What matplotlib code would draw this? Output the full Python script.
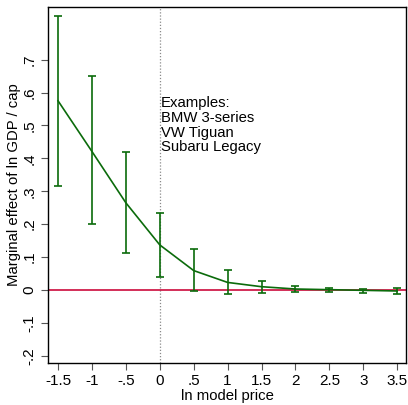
import matplotlib
matplotlib.use("Agg")
import matplotlib.pyplot as plt

plt.rcParams['font.family'] = ['Liberation Sans', 'DejaVu Sans']

x_vals = [-1.5, -1.0, -0.5, 0.0, 0.5, 1.0, 1.5, 2.0, 2.5, 3.0, 3.5]
effect = [0.575, 0.421, 0.265, 0.137, 0.059, 0.023, 0.010, 0.003, 0.001, -0.001, -0.003]
upper = [0.834, 0.651, 0.418, 0.233, 0.124, 0.061, 0.027, 0.012, 0.006, 0.004, 0.005]
lower = [0.317, 0.201, 0.112, 0.039, -0.003, -0.012, -0.010, -0.007, -0.006, -0.009, -0.012]

xticks = [-1.5, -1, -0.5, 0, 0.5, 1, 1.5, 2, 2.5, 3, 3.5]
xtick_labels = ['-1.5', '-1', '-.5', '0', '.5', '1', '1.5', '2', '2.5', '3', '3.5']
yticks = [-0.2, -0.1, 0, 0.1, 0.2, 0.3, 0.4, 0.5, 0.6, 0.7]
ytick_labels = ['-.2', '-.1', '0', '.1', '.2', '.3', '.4', '.5', '.6', '.7']
note = "Examples:\nBMW 3-series\nVW Tiguan\nSubaru Legacy"

green = '#0b6b0b'
fig = plt.figure(figsize=(4.08, 4.05), dpi=100)
ax = fig.add_axes([0.1176, 0.1044, 0.9963 - 0.1176, 0.9835 - 0.1044])

ax.axvline(0, color='#8a8a8a', lw=0.9, ls=(0, (1, 1.5)), zorder=1)
ax.axhline(0, color='#cc0a3c', lw=1.2, zorder=2)
ax.plot(x_vals, effect, color=green, lw=1.2, zorder=3)
yerr = [[e - l for e, l in zip(effect, lower)], [u - e for e, u in zip(effect, upper)]]
ax.errorbar(x_vals, effect, yerr=yerr, fmt='none', ecolor=green, elinewidth=1.2,
            capsize=3, capthick=1.2, zorder=4)

ax.set_xlim(-1.648, 3.637)
ax.set_ylim(-0.221, 0.861)
ax.set_xticks(xticks)
ax.set_xticklabels(xtick_labels)
ax.set_yticks(yticks)
ax.set_yticklabels(ytick_labels, rotation=90, va='center')
ax.tick_params(axis='both', labelsize=11, length=5, width=0.8, color='#555555', pad=3)
for s in ax.spines.values():
    s.set_linewidth(1.0)
    s.set_color('black')

ax.set_xlabel('ln model price', fontsize=10.7, labelpad=1)
ax.set_ylabel('Marginal effect of ln GDP / cap', fontsize=10.7, labelpad=1)

ax.text(0.02, 0.59, note, fontsize=10.7, va='top', ha='left', linespacing=1.08, zorder=5)

fig.savefig('out.png', dpi=100)
